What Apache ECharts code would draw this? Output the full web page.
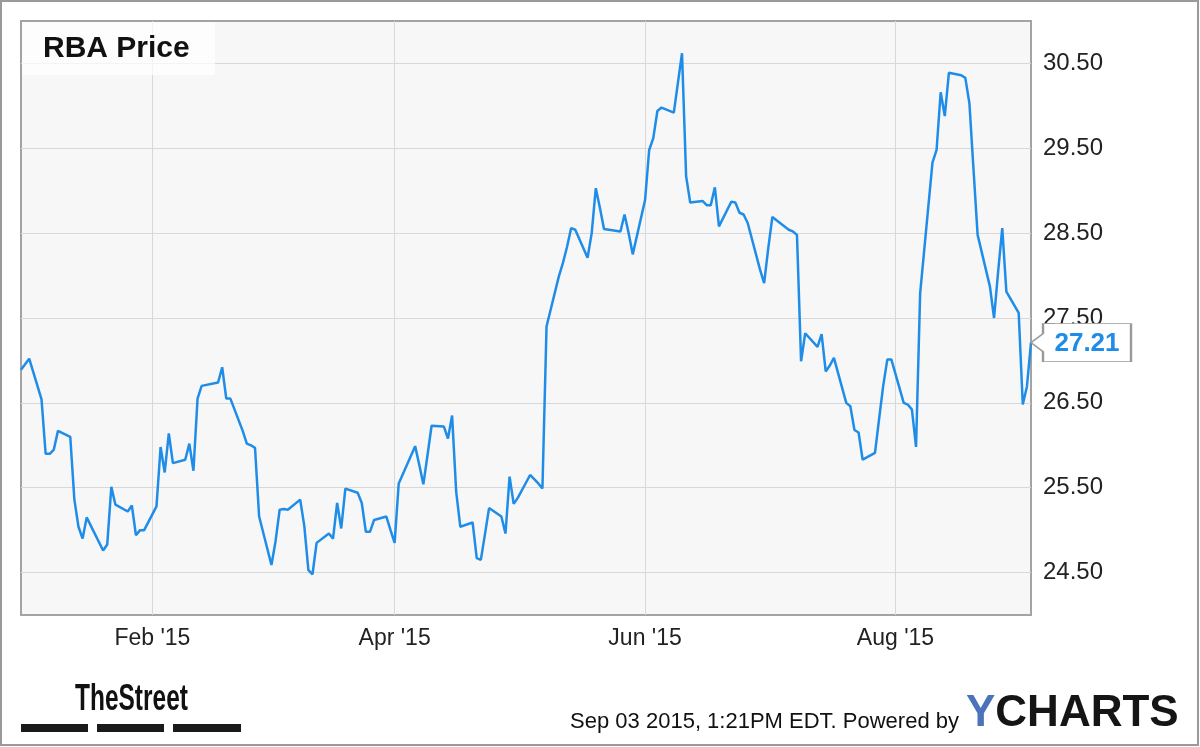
<!DOCTYPE html>
<html>
<head>
<meta charset="utf-8">
<script src="https://cdn.jsdelivr.net/npm/echarts@6/dist/echarts.min.js"></script>
<style>
html,body{margin:0;padding:0;background:#fff;}
#chart{width:1200px;height:747px;}
</style>
</head>
<body>
<div id="chart"></div>
<script>
// ---- data (RBA closing price) ----
const startDate = '2014-12-31';
const endDate = '2015-09-03';
const marketHolidays = ['2015-01-01', '2015-01-19', '2015-02-16', '2015-04-03', '2015-05-25', '2015-07-03'];

const dec14 = [26.89];
const jan15 = [27.02, 26.54, 25.90, 25.90, 25.95, 26.17, 26.10, 25.36, 25.04, 24.90, 25.15,
               24.76, 24.83, 25.51, 25.30, 25.22, 25.29, 24.94, 25.00, 25.00];
const feb15 = [25.28, 25.98, 25.68, 26.14, 25.79, 25.83, 26.02, 25.70, 26.55, 26.70,
               26.74, 26.92, 26.55, 26.55, 26.17, 26.02, 26.00, 25.97, 25.16];
const mar15 = [24.59, 24.87, 25.24, 25.25, 25.24, 25.36, 25.05, 24.53, 24.48, 24.85,
               24.96, 24.90, 25.32, 25.02, 25.49, 25.44, 25.32, 24.98, 24.98, 25.12, 25.16, 25.00];
const apr15 = [24.85, 25.55, 25.99, 25.77, 25.54, 25.88, 26.23, 26.22, 26.08, 26.35, 25.45,
               25.04, 25.09, 24.67, 24.65, 24.95, 25.26, 25.16, 24.96, 25.63, 25.31];
const may15 = [25.38, 25.65, 25.60, 25.55, 25.49, 27.40, 27.99, 28.15, 28.34, 28.56, 28.54,
               28.21, 28.50, 29.03, 28.80, 28.55, 28.52, 28.72, 28.50, 28.25];
const jun15 = [28.89, 29.48, 29.62, 29.94, 29.98, 29.92, 30.27, 30.62, 29.17, 28.86,
               28.88, 28.83, 28.83, 29.04, 28.58, 28.87, 28.86, 28.74, 28.72, 28.62, 28.07, 27.91];
const jul15 = [28.32, 28.69, 28.54, 28.52, 28.48, 26.99, 27.32, 27.16, 27.31, 26.87, 26.94,
               27.03, 26.50, 26.46, 26.18, 26.15, 25.83, 25.91, 26.31, 26.70, 27.01, 27.01];
const aug15 = [26.50, 26.48, 26.42, 25.98, 27.79, 29.33, 29.48, 30.16, 29.88, 30.39,
               30.36, 30.33, 30.03, 29.25, 28.48, 27.87, 27.50, 28.05, 28.56, 27.81, 27.56];
const sep15 = [26.48, 26.69, 27.21];

const yTickValues = [24.5, 25.5, 26.5, 27.5, 28.5, 29.5, 30.5];
const xTickDates = ['2015-02-01', '2015-04-01', '2015-06-01', '2015-08-01'];
const monthNames = ['Jan', 'Feb', 'Mar', 'Apr', 'May', 'Jun', 'Jul', 'Aug', 'Sep', 'Oct', 'Nov', 'Dec'];
const seriesName = 'RBA Price';

// ---- build trading-day calendar ----
function pad(n) { return (n < 10 ? '0' : '') + n; }
function tradingDays(from, to, holidays) {
  const out = [];
  const p1 = from.split('-').map(Number), p2 = to.split('-').map(Number);
  let t = Date.UTC(p1[0], p1[1] - 1, p1[2]);
  const end = Date.UTC(p2[0], p2[1] - 1, p2[2]);
  while (t <= end) {
    const d = new Date(t);
    const wd = d.getUTCDay();
    const s = d.getUTCFullYear() + '-' + pad(d.getUTCMonth() + 1) + '-' + pad(d.getUTCDate());
    if (wd !== 0 && wd !== 6 && holidays.indexOf(s) < 0) out.push(s);
    t += 86400000;
  }
  return out;
}
function dayTime(s) { const p = s.split('-').map(Number); return Date.UTC(p[0], p[1] - 1, p[2]); }
const dates = tradingDays(startDate, endDate, marketHolidays);
const prices = [].concat(dec14, jan15, feb15, mar15, apr15, may15, jun15, jul15, aug15, sep15);
const seriesData = dates.map((d, i) => [dayTime(d), prices[i]]);
const xTickTimes = xTickDates.map(dayTime);
const lastPoint = seriesData[seriesData.length - 1];

const FONT = 'Liberation Sans, Arial, sans-serif';
const chart = echarts.init(document.getElementById('chart'), null, { renderer: 'canvas' });

chart.setOption({
  animation: false,
  backgroundColor: '#ffffff',
  grid: {
    left: 21, right: 169, top: 21, bottom: 132,
    show: true, backgroundColor: '#f7f7f7', borderColor: '#a3a3a3', borderWidth: 2
  },
  xAxis: {
    type: 'value',
    min: dayTime(startDate),
    max: dayTime(endDate),
    axisLine: { show: false },
    axisTick: { show: false, customValues: xTickTimes },
    splitLine: { show: true, lineStyle: { color: '#d8d8d8', width: 1 } },
    axisLabel: {
      customValues: xTickTimes,
      margin: 12,
      fontSize: 23,
      color: '#222',
      fontFamily: FONT,
      formatter: function (v) {
        const d = new Date(v);
        return monthNames[d.getUTCMonth()] + " '" + String(d.getUTCFullYear()).slice(2);
      }
    }
  },
  yAxis: {
    type: 'value',
    position: 'right',
    min: 24,
    max: 31,
    axisLine: { show: false },
    axisTick: { show: false, customValues: yTickValues },
    splitLine: { show: true, lineStyle: { color: '#d8d8d8', width: 1 } },
    axisLabel: {
      customValues: yTickValues,
      margin: 12,
      fontSize: 24,
      color: '#222',
      fontFamily: FONT,
      formatter: function (v) { return v.toFixed(2); }
    }
  },
  series: [{
    name: seriesName,
    type: 'line',
    data: seriesData,
    showSymbol: false,
    symbol: 'none',
    lineStyle: { color: '#1f8de8', width: 2.5 },
    z: 3,
    markPoint: {
      silent: true,
      symbol: 'path://M0,19 L12,10 L12,0 L100,0 L100,38 L12,38 L12,28 Z',
      symbolSize: [100, 38],
      symbolOffset: [50, 0],
      symbolKeepAspect: false,
      itemStyle: { color: '#ffffff', borderColor: '#9a9a9a', borderWidth: 1.5 },
      label: {
        show: true,
        position: 'inside',
        offset: [6, 1],
        color: '#1f8de8',
        fontWeight: 'bold',
        fontSize: 26,
        fontFamily: FONT,
        formatter: function (p) { return Number(p.value).toFixed(2); }
      },
      data: [{ coord: lastPoint, value: lastPoint[1] }]
    }
  }],
  graphic: [
    { type: 'rect', z: 50, silent: true,
      shape: { x: 1, y: 1, width: 1197, height: 744 },
      style: { fill: 'none', stroke: '#9a9a9a', lineWidth: 2 } },
    { type: 'rect', z: 10, silent: true,
      shape: { x: 22, y: 22, width: 193, height: 53 },
      style: { fill: 'rgba(255,255,255,0.72)' } },
    { type: 'text', z: 11, silent: true, x: 43, y: 49,
      style: { text: seriesName, fill: '#111', font: 'bold 30px ' + FONT, verticalAlign: 'middle', align: 'left' } },
    { type: 'text', z: 11, silent: true, x: 75, y: 700, scaleX: 0.68, originX: 0, originY: 0,
      style: { text: 'TheStreet', fill: '#111', font: 'bold 36px ' + FONT, verticalAlign: 'middle', align: 'left' } },
    { type: 'rect', z: 11, silent: true, shape: { x: 21, y: 724, width: 67, height: 8 }, style: { fill: '#1a1a1a' } },
    { type: 'rect', z: 11, silent: true, shape: { x: 97, y: 724, width: 67, height: 8 }, style: { fill: '#1a1a1a' } },
    { type: 'rect', z: 11, silent: true, shape: { x: 173, y: 724, width: 68, height: 8 }, style: { fill: '#1a1a1a' } },
    { type: 'text', z: 11, silent: true, x: 959, y: 722,
      style: { text: 'Sep 03 2015, 1:21PM EDT. Powered by', fill: '#111', font: '22px ' + FONT, verticalAlign: 'middle', align: 'right' } },
    { type: 'text', z: 11, silent: true, x: 966, y: 714,
      style: {
        text: '{y|Y}{c|CHARTS}', verticalAlign: 'middle', align: 'left',
        rich: {
          y: { fill: '#4b73bb', font: 'bold 44px ' + FONT },
          c: { fill: '#151515', font: 'bold 44px ' + FONT }
        }
      } }
  ]
});
</script>
</body>
</html>
